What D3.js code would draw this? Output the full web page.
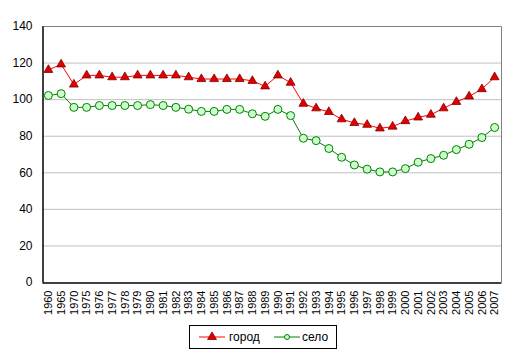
<!DOCTYPE html>
<html><head><meta charset="utf-8">
<script src="https://cdn.jsdelivr.net/npm/d3@7"></script>
<style>body{margin:0;background:#fff}svg{display:block;font-family:"Liberation Sans",Arial,sans-serif}</style>
</head><body><svg id="c" width="516" height="357"></svg>
<script>
const years = ["1960","1965","1970","1975","1976","1977","1978","1979","1980","1981","1982","1983","1984","1985","1986","1987","1988","1989","1990","1991","1992","1993","1994","1995","1996","1997","1998","1999","2000","2001","2002","2003","2004","2005","2006","2007"];
const gorod = [116,119,108,113,113,112,112,113,113,113,113,112,111,111,111,111,110,107,113,109,97.5,95,93,89,87,86,84,85,88,90,91.5,95,98.5,101.5,105.5,112];
const selo = [102,103,95.5,95.5,96.5,96.5,96.5,96.5,97,96.5,95.5,94.5,93.3,93.3,94.4,94.4,92,90.6,94.4,91,78.6,77.3,73,68.2,64,61.7,60.2,60.2,62,65.5,67.5,69.3,72.4,75.3,79,84.5];
const yTicks = [0,20,40,60,80,100,120,140];
const seriesNames = ["город","село"];

const svg = d3.select("#c");
const L=42, R=501, T=26, B=282;
const x = d3.scaleBand().domain(years).range([L,R]);
const y = d3.scaleLinear().domain([0,140]).range([B,T]);

// gridlines
svg.append("g").selectAll("line").data(yTicks.filter(d=>d>0&&d<140)).join("line")
  .attr("x1",L).attr("x2",R).attr("y1",d=>y(d)+0.5).attr("y2",d=>y(d)+0.5)
  .attr("stroke","#c0c0c0").attr("stroke-width",1);
// plot border top/right
svg.append("path").attr("d",`M${L},${T+0.5}H${R+0.5}V${B}`).attr("fill","none").attr("stroke","#808080");

// y axis
const ya = svg.append("g").attr("transform",`translate(${L+0.5},0)`)
  .call(d3.axisLeft(y).tickValues(yTicks).tickSize(0).tickPadding(10));
ya.select(".domain").attr("stroke","#000").attr("stroke-width",1.5);
ya.selectAll("text").attr("font-size",12).attr("fill","#000").attr("font-family","Liberation Sans, Arial, sans-serif");

// x axis
const xa = svg.append("g").attr("transform",`translate(0,${B+0.5})`)
  .call(d3.axisBottom(x).tickSize(0).tickPadding(0));
xa.select(".domain").attr("stroke","#000").attr("stroke-width",1.5);
xa.selectAll("text").attr("font-size",11).attr("fill","#000").attr("font-family","Liberation Sans, Arial, sans-serif")
  .attr("transform","rotate(-90)").attr("text-anchor","end").attr("dy","0.35em").attr("x",-8).attr("y",0);

const cx = d => x(d)+x.bandwidth()/2;
const line = d3.line().x((d,i)=>cx(years[i])).y(d=>y(d));

svg.append("path").datum(gorod).attr("d",line).attr("fill","none").attr("stroke","#ff0000").attr("stroke-width",1);
svg.append("path").datum(selo).attr("d",line).attr("fill","none").attr("stroke","#008000").attr("stroke-width",1);

const tri = d3.symbol().type(d3.symbolTriangle).size(34);
svg.append("g").selectAll("path").data(gorod).join("path")
  .attr("transform",(d,i)=>`translate(${cx(years[i])},${y(d)})`).attr("d",tri)
  .attr("fill","#e00000").attr("stroke","#800000").attr("stroke-width",0.8);
svg.append("g").selectAll("circle").data(selo).join("circle")
  .attr("cx",(d,i)=>cx(years[i])).attr("cy",d=>y(d)).attr("r",4)
  .attr("fill","#ccffcc").attr("stroke","#008000").attr("stroke-width",1);

// legend
const lg = svg.append("g");
lg.append("rect").attr("x",189.5).attr("y",325.5).attr("width",147).attr("height",23).attr("fill","#fff").attr("stroke","#000");
lg.append("line").attr("x1",199).attr("x2",225).attr("y1",337).attr("y2",337).attr("stroke","#ff0000");
lg.append("path").attr("transform","translate(212,337)").attr("d",tri).attr("fill","#e00000").attr("stroke","#800000").attr("stroke-width",0.8);
lg.append("text").attr("x",229).attr("y",341).attr("font-size",12).text(seriesNames[0]);
lg.append("line").attr("x1",274).attr("x2",300).attr("y1",337).attr("y2",337).attr("stroke","#008000");
lg.append("circle").attr("cx",287).attr("cy",337).attr("r",2.5).attr("fill","#ccffcc").attr("stroke","#008000");
lg.append("text").attr("x",302).attr("y",341).attr("font-size",12).text(seriesNames[1]);
</script></body></html>
